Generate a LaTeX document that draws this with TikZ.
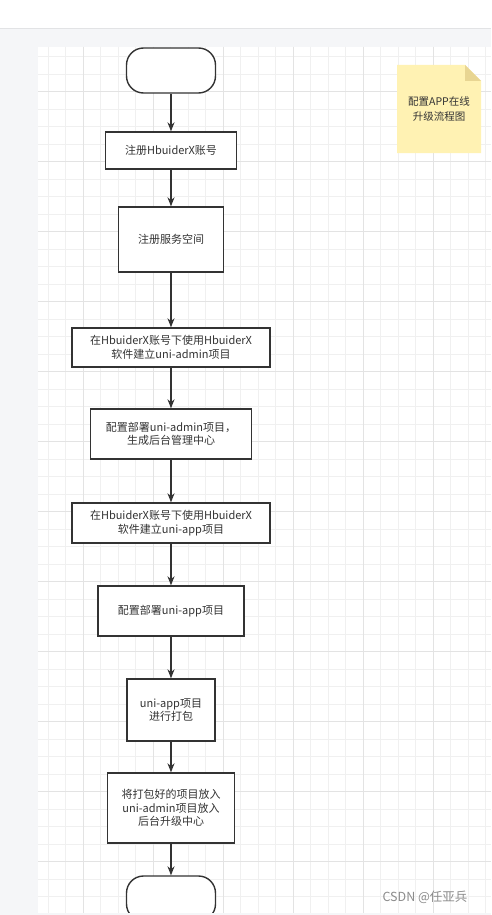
\documentclass[tikz,border=0pt]{standalone}
\usepackage{fontspec}
\newfontfamily\cjk{Noto Sans CJK SC}
\usetikzlibrary{arrows.meta}
\definecolor{pagegray}{HTML}{F5F6F8}
\definecolor{edgegray}{HTML}{E2E3E5}
\definecolor{minorgrid}{HTML}{F0F0F0}
\definecolor{majorgrid}{HTML}{E3E3E3}
\definecolor{inkdark}{HTML}{333333}
\definecolor{noteyellow}{HTML}{FFF2B3}
\definecolor{notefold}{HTML}{E8D592}
\tikzset{
  stepbox/.style={draw=inkdark, line width=1.4pt, fill=white, inner sep=0pt,
    align=center, text=inkdark, font=\cjk\fontsize{11}{13.5}\selectfont},
  terminal/.style={stepbox, rounded corners=17pt, minimum width=89pt, minimum height=45pt},
  flowarrow/.style={draw=inkdark, line width=1.2pt, -{Stealth[length=9pt,width=7pt]}}
}
\begin{document}
\begin{tikzpicture}[x=1pt,y=-1pt]
  \useasboundingbox (0,0) rectangle (491,915);
  % page background
  \fill[white] (0,0) rectangle (491,28);
  \fill[pagegray] (0,28) rectangle (491,915);
  \draw[edgegray] (0,28) -- (491,28);
  \fill[white] (38,47) rectangle (491,913);
  % grid
  \begin{scope}
    \clip (38,47) rectangle (491,913);
    \foreach \i in {0,...,25} \draw[minorgrid, line width=0.8pt] (48.3+17.5*\i,47) -- (48.3+17.5*\i,913);
    \foreach \i in {0,...,49} \draw[minorgrid, line width=0.8pt] (38,56.7+17.5*\i) -- (491,56.7+17.5*\i);
    \foreach \i in {0,...,6} \draw[majorgrid, line width=0.9pt] (83.3+70*\i,47) -- (83.3+70*\i,913);
    \foreach \i in {0,...,12} \draw[majorgrid, line width=0.9pt] (38,91.7+70*\i) -- (491,91.7+70*\i);

    % flow
    \node[terminal] (start) at (171,70.5) {};
    \node[stepbox, minimum width=131pt, minimum height=37pt] (account) at (171,150.5) {注册HbuiderX账号};
    \node[stepbox, minimum width=105pt, minimum height=65pt] (space) at (171,239.5) {注册服务空间};
    \node[stepbox, minimum width=198pt, minimum height=39pt] (adminproj) at (171,347.5) {在HbuiderX账号下使用HbuiderX\\软件建立uni-admin项目};
    \node[stepbox, minimum width=161pt, minimum height=50pt] (admindeploy) at (171,434) {配置部署uni-admin项目，\\生成后台管理中心};
    \node[stepbox, minimum width=198pt, minimum height=40pt] (appproj) at (171,523) {在HbuiderX账号下使用HbuiderX\\软件建立uni-app项目};
    \node[stepbox, minimum width=146pt, minimum height=50pt] (appdeploy) at (171,611) {配置部署uni-app项目};
    \node[stepbox, minimum width=88pt, minimum height=62pt] (pack) at (171,710) {uni-app项目\\进行打包};
    \node[stepbox, minimum width=127pt, minimum height=70pt] (upload) at (171,808) {将打包好的项目放入\\uni-admin项目放入\\后台升级中心};
    \node[terminal] (finish) at (171,898.5) {};

    \foreach \a/\b in {start/account, account/space, space/adminproj, adminproj/admindeploy,
        admindeploy/appproj, appproj/appdeploy, appdeploy/pack, pack/upload, upload/finish}
      \draw[flowarrow] (\a) -- (\b);

    % note
    \fill[noteyellow] (397,65) -- (465,65) -- (481,81) -- (481,153) -- (397,153) -- cycle;
    \fill[notefold] (465,65) -- (481,81) -- (465,81) -- cycle;
    \node[align=center, text=inkdark, font=\cjk\fontsize{10.5}{15}\selectfont] (note) at (439,109) {配置APP在线\\升级流程图};
  \end{scope}
  \fill[pagegray] (0,913) rectangle (491,915);

  \node[text=black!45, font=\cjk\fontsize{12.5}{14}\selectfont] (mark) at (425,897) {CSDN @任亚兵};
\end{tikzpicture}
\end{document}
